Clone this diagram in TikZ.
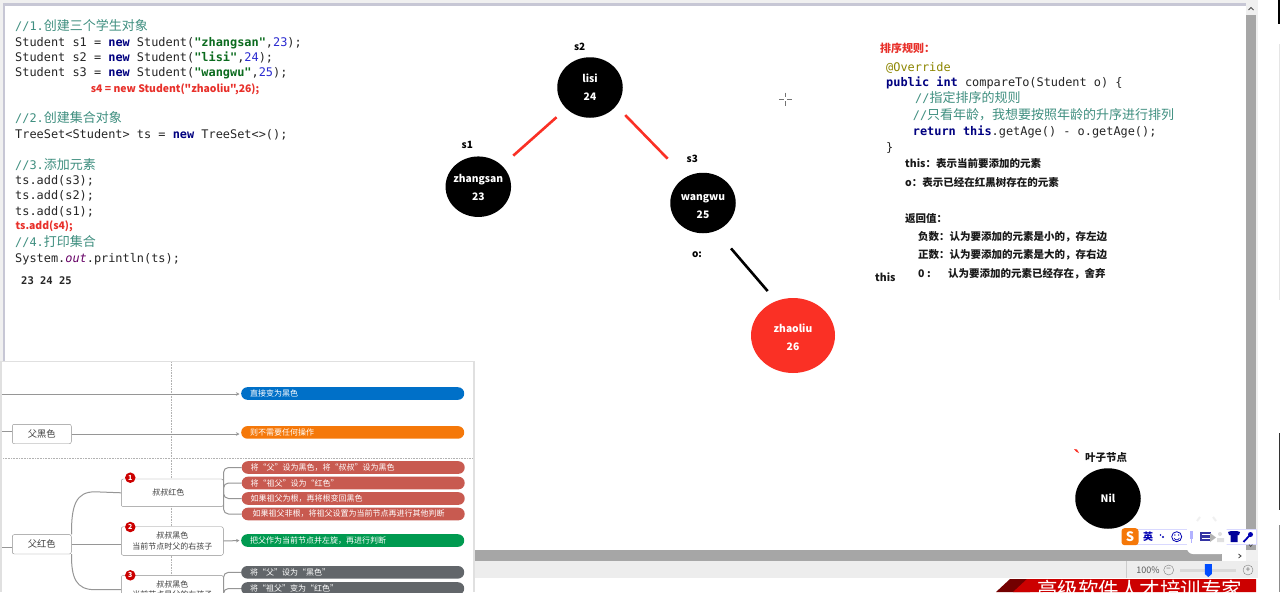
\documentclass[tikz,border=0pt]{standalone}
\usepackage{xcolor}
\usepackage{fontspec}
\setmonofont{DejaVu Sans Mono}
\newfontfamily\cjk{Noto Sans CJK SC}
\usetikzlibrary{arrows.meta,positioning,shapes.geometric}
\definecolor{redlab}{HTML}{E8302A}
\definecolor{rededgecol}{HTML}{FA3025}
\definecolor{kwcol}{HTML}{000080}
\definecolor{strcol}{HTML}{0B6B1E}
\definecolor{numcol}{HTML}{2A2AD0}
\definecolor{cmtcol}{HTML}{3F8F80}
\definecolor{linkcol}{HTML}{969696}
\definecolor{pillblue}{HTML}{0070C8}
\definecolor{pillorange}{HTML}{F57809}
\definecolor{pillred}{HTML}{C85A50}
\definecolor{pillgreen}{HTML}{009A50}
\definecolor{pillgrey}{HTML}{62666A}
\newcommand{\javakw}[1]{{\bfseries\color{kwcol}#1}}
\newcommand{\javastr}[1]{{\bfseries\color{strcol}#1}}
\newcommand{\javanum}[1]{{\color{numcol}#1}}
\newcommand{\javacmt}[1]{{\color{cmtcol}#1}}
\newcommand{\cmtcjk}[1]{{\cjk\fontsize{13}{15}\selectfont#1}}
\begin{document}
\begin{tikzpicture}[
  x=1pt, y=-1pt,
  code/.style={anchor=west, text height=8.6pt, text depth=0pt, inner sep=0pt, font=\ttfamily\fontsize{11.9}{14}\selectfont, text=black!85},
  redcode/.style={anchor=west, inner sep=0pt, text=redlab, font=\cjk\bfseries\fontsize{10.4}{12}\selectfont},
  note/.style={anchor=west, inner sep=0pt, text=black!90, font=\cjk\bfseries\fontsize{10.5}{12}\selectfont},
  tag/.style={inner sep=0pt, text=black, font=\cjk\bfseries\fontsize{10}{12}\selectfont},
  treenode/.style={ellipse, fill=black, text=white, inner sep=0pt, minimum width=65.5pt, minimum height=60.5pt, align=center, font=\cjk\bfseries\fontsize{10.3}{18}\selectfont},
  rededge/.style={line width=2.6pt, draw=rededgecol},
  blackedge/.style={line width=2.6pt, draw=black},
  mapbox/.style={draw=black!45, fill=white, rounded corners=2pt, align=center, text=black!75, inner sep=0pt, font=\cjk\fontsize{8}{10.5}\selectfont},
  pill/.style={anchor=west, text=white, rounded corners=6.2pt, minimum width=223pt, minimum height=12.6pt, inner sep=0pt, text width=205pt, font=\cjk\fontsize{8}{10}\selectfont},
  badge/.style={circle, fill=red!80!black, text=white, inner sep=0pt, minimum size=10.5pt, font=\cjk\bfseries\fontsize{7}{8}\selectfont},
  maplink/.style={draw=linkcol, line width=1pt},
  maparr/.style={maplink, -{Stealth[length=3.5pt,width=3.5pt]}, shorten >=1.5pt},
  guide/.style={draw=black!30, densely dotted, line width=0.6pt}
]
\useasboundingbox (0,0) rectangle (1280,592);
\clip (0,0) rectangle (1280,592);
\fill[white] (0,0) rectangle (1280,592);
\fill[black!6] (0,0) rectangle (1258,3);
\fill[black!6] (0,0) rectangle (3,592);
\fill[blue!25!black!22] (3,3) rectangle (1246,6);
\fill[blue!25!black!22] (3,3) rectangle (5,362);
\fill[black!6] (1246,3) rectangle (1258,578);
\fill[black!35] (1246,15) rectangle (1256,550);
\draw[black!70, line width=0.8pt] (1248.5,10) -- (1251,7.5) -- (1253.5,10);
\fill[black!35] (473,550) rectangle (1222,561);
\fill[black!7] (473,561) rectangle (1258,578);
\draw[black!20] (1126,561) -- (1126,578);
\fill[black] (1278,0) rectangle (1280,24);
\fill[black!10] (1279,44) rectangle (1280,300);
\fill[black!80] (1279,433) rectangle (1280,510);
\fill[black!45] (1279,525) rectangle (1280,592);

% code on the left
\node[code] (line1) at (15,25.7) {\javacmt{//1.\cmtcjk{创建三个学生对象}}};
\node[code] (line2) at (15,41.7) {Student s1 = \javakw{new} Student(\javastr{"zhangsan"},\javanum{23});};
\node[code] (line3) at (15,56.7) {Student s2 = \javakw{new} Student(\javastr{"lisi"},\javanum{24});};
\node[code] (line4) at (15,71.7) {Student s3 = \javakw{new} Student(\javastr{"wangwu"},\javanum{25});};
\node[redcode] (line5) at (90.7,89.3) {s4 = new Student("zhaoliu",26);};
\node[code] (line6) at (15,117.7) {\javacmt{//2.\cmtcjk{创建集合对象}}};
\node[code] (line7) at (15,133.7) {TreeSet<Student> ts = \javakw{new} TreeSet<>();};
\node[code] (line8) at (15,165) {\javacmt{//3.\cmtcjk{添加元素}}};
\node[code] (line9) at (15,180.3) {ts.add(s3);};
\node[code] (line10) at (15,195.3) {ts.add(s2);};
\node[code] (line11) at (15,210.7) {ts.add(s1);};
\node[redcode] (line12) at (15.5,226.7) {ts.add(s4);};
\node[code] (line13) at (15,242) {\javacmt{//4.\cmtcjk{打印集合}}};
\node[code] (line14) at (15,257.7) {System.{\itshape\color{violet!80!black}out}.println(ts);};
\node[code, font=\ttfamily\bfseries\fontsize{10.5}{12}\selectfont] (result) at (21,280) {23 24 25};

% tree
\node[treenode] (lisi) at (590,87.5) {lisi\\24};
\node[treenode] (zhangsan) at (478.3,186.7) {\rule{0pt}{10pt}\makebox[0pt]{zhangsan}\\23};
\node[treenode] (wangwu) at (703,203) {\rule{0pt}{13pt}\makebox[0pt]{wangwu}\\25};
\node[treenode, fill=rededgecol, minimum width=84pt, minimum height=75pt] (zhaoliu) at (793,335.5) {\rule{0pt}{12pt}\makebox[0pt]{zhaoliu}\\26};
\node[treenode] (nil) at (1108,498.5) {Nil};
\node[tag] (s2) at (579.7,46.7) {s2};
\node[tag] (s1) at (467.3,145) {s1};
\node[tag] (s3) at (692.3,159.3) {s3};
\node[tag] (o) at (697,254.3) {o:};
\draw[rededge, shorten <=13pt, shorten >=15pt] (lisi) -- (zhangsan);
\draw[rededge, shorten <=12.8pt, shorten >=25.8pt] (lisi.-35) -- (wangwu.124);
\draw[blackedge, shorten <=23pt, shorten >=13pt] (wangwu.-65) -- (zhaoliu.116);

\draw[black!55, line width=0.6pt] (779,99) -- (783.5,99) (787,99) -- (792,99) (785.3,92.5) -- (785.3,97) (785.3,101) -- (785.3,105.5);

% rules on the right
\node[redcode, font=\cjk\bfseries\fontsize{11}{13}\selectfont] (rulehead) at (880,48) {排序规则：};
\node[code, text=olive] (rule1) at (886,66.7) {@Override};
\node[code] (rule2) at (886,82) {\javakw{public} \javakw{int} compareTo(Student o) \{};
\node[code] (rule3) at (915,98.3) {\javacmt{//\cmtcjk{指定排序的规则}}};
\node[code] (rule4) at (912.7,115) {\javacmt{//\cmtcjk{只看年龄，我想要按照年龄的升序进行排列}}};
\node[code] (rule5) at (912.7,131) {\javakw{return} \javakw{this}.getAge() - o.getAge();};
\node[code] (rule6) at (886,147) {\}};
\node[note] (this) at (905,164) {this：表示当前要添加的元素};
\node[note] (other) at (905,182.3) {o：表示已经在红黑树存在的元素};
\node[note] (ret) at (905,219) {返回值：};
\node[note] (neg) at (918,236.7) {负数：认为要添加的元素是小的，存左边};
\node[note] (pos) at (918,255) {正数：认为要添加的元素是大的，存右边};
\node[note] (zero) at (918,273.3) {0 :};
\node[note] (zerotext) at (948,273.3) {认为要添加的元素已经存在，舍弃};
\node[note] (thistag) at (875,277.7) {this};
\node[note] (leaf) at (1085,457.3) {叶子节点};
\fill[rededgecol] (1074,449) -- (1077,449.5) -- (1079,453) -- (1076,451.5) -- cycle;

% mind map panel
\fill[black!12] (0,360.5) rectangle (474.5,592);
\fill[white] (2,362) rectangle (473,592);
\draw[guide] (171,362) -- (171,592);
\draw[guide] (3,458.5) -- (473,458.5);
\node[pill, fill=pillblue] (direct) at (241,393.5) {直接变为黑色};
\node[pill, fill=pillorange] (noop) at (241,432.4) {则不需要任何操作};
\node[pill, fill=pillred] (red1) at (241.5,467.5) {将“父”设为黑色，将“叔叔”设为黑色};
\node[pill, fill=pillred, below=2.5pt of red1] (red2) {将“祖父”设为“红色”};
\node[pill, fill=pillred, below=2.5pt of red2] (red3) {如果祖父为根，再将根变回黑色};
\node[pill, fill=pillred, below=2.5pt of red3] (red4) {\hspace{2pt}如果祖父非根，将祖父设置为当前节点再进行其他判断};
\node[pill, fill=pillgreen] (rotate) at (241,540.5) {把父作为当前节点并左旋，再进行判断};
\node[pill, fill=pillgrey] (grey1) at (241,572.3) {将“父”设为“黑色”};
\node[pill, fill=pillgrey] (grey2) at (241,588.5) {将“祖父”变为“红色”};
\node[mapbox, minimum width=59pt, minimum height=19.4pt, font=\cjk\fontsize{9.3}{11}\selectfont] (fablack) at (41.8,434) {父黑色};
\node[mapbox, minimum width=59pt, minimum height=19.4pt, font=\cjk\fontsize{9.3}{11}\selectfont] (fared) at (41.8,544.3) {父红色};
\coordinate (topin) at (2,394);
\coordinate (blackin) at (2,431.7);
\coordinate (redin) at (2,547);
\node[mapbox, minimum width=102pt, minimum height=27.7pt] (uncle1) at (172.3,492.8) {叔叔红色\hspace{8pt}};
\node[mapbox, minimum width=102pt, minimum height=28.6pt] (uncle2) at (172.3,541) {叔叔黑色\hspace{4pt}\\当前节点时父的右孩子\hspace{4pt}};
\node[mapbox, minimum width=102pt, minimum height=28.6pt] (uncle3) at (172.3,589.7) {叔叔黑色\\当前节点是父的左孩子};
\node[badge] (num1) at (130.3,477.7) {1};
\node[badge] (num2) at (130.3,527) {2};
\node[badge] (num3) at (130.3,575.3) {3};
\draw[maparr] (topin) -- (direct.west |- topin);
\draw[maplink] (blackin) -- (fablack.west |- blackin);
\draw[maplink] (redin) -- (fared.west |- redin);
\draw[maparr] (fablack.east) -- (noop.west |- fablack.east);
\draw[maplink] (fared.east) -- (uncle2.west |- fared.east);
\draw[maplink] (fared.north east) .. controls (71.3,505) and (76,491.8) .. (95,491.8) -- (uncle1.west);
\draw[maplink] (fared.south east) .. controls (71.3,578) and (76,589.7) .. (95,589.7) -- (uncle3.west);
\draw[maplink, rounded corners=5pt] (uncle1.east) |- (red1.west);
\draw[maplink, rounded corners=5pt] (uncle1.east) |- (red2.west);
\draw[maplink, rounded corners=5pt] (uncle1.east) |- (red3.west);
\draw[maplink, rounded corners=5pt] (uncle1.east) |- (red4.west);
\draw[maparr] (uncle2.east) -- (rotate.west);
\draw[maplink, rounded corners=5pt] (uncle3.east) |- (grey1.west);
\draw[maplink, rounded corners=5pt] (uncle3.east) |- (grey2.west);

% window furniture
\fill[white] (1135,529) rectangle (1256,544);
\draw[blue!15, line width=0.6pt] (1135,529) rectangle (1256,544);
\node[fill=pillorange, text=white, rounded corners=3pt, inner sep=0pt, minimum size=17pt, font=\cjk\bfseries\fontsize{13}{14}\selectfont] (sogou) at (1130,536.7) {S};
\node[inner sep=0pt, text=blue!70!black, font=\cjk\bfseries\fontsize{10}{12}\selectfont] (lang) at (1148,537) {英};
\fill[blue!70!black] (1160.5,535) circle (0.9pt) (1163,537) circle (1.1pt);
\draw[blue!70!black, line width=0.8pt] (1176.7,536.7) circle (5pt);
\fill[blue!70!black] (1174.8,535) circle (0.7pt) (1178.6,535) circle (0.7pt);
\draw[blue!70!black, line width=0.6pt] (1174,538) .. controls (1175.5,540.5) and (1178,540.5) .. (1179.5,538);
\fill[white, rounded corners=6pt] (1187,522) rectangle (1226.7,554);
\draw[black!6, line width=2pt] (1197,521) -- (1200,517) (1216,521) -- (1213,517);
\fill[blue!30] (1189.5,531) rectangle (1192.5,539);
\draw[blue!30, line width=0.7pt] (1191,539) -- (1191,543);
\fill[blue!55!black!80] (1200,532) rectangle (1211,541);
\draw[white, line width=0.5pt] (1201.5,534.5) -- (1209.5,534.5) (1201.5,538.5) -- (1209.5,538.5);
\fill[black!30] (1210,533) -- (1216,537.5) -- (1210,542) -- cycle;
\fill[black!12] (1220,534) circle (2pt) (1217,542) rectangle (1224,538);
\fill[blue!60!black] (1228,532) -- (1231,531) -- (1237,531) -- (1240,532) -- (1239,535) -- (1237.5,535) -- (1237.5,542) -- (1230.5,542) -- (1230.5,535) -- (1229,535) -- cycle;
\draw[blue!70!black, line width=1.8pt] (1243.5,542) -- (1250,535);
\fill[blue!70!black] (1250.5,534.5) circle (2.5pt);
\draw[black!70, line width=0.7pt] (1249,544.5) -- (1250.7,546.5) -- (1252.4,544.5);
\draw[black!75, line width=0.8pt] (1238.5,554) -- (1241,556) -- (1238.5,558);
\node[inner sep=0pt, text=black!65, font=\cjk\fontsize{9}{11}\selectfont] (zoompct) at (1148,570) {100\%};
\node[draw=black!50, circle, inner sep=0pt, minimum size=10pt, text=black!60, font=\cjk\fontsize{8}{9}\selectfont] (zoomout) at (1168.7,570) {−};
\node[draw=black!50, circle, inner sep=0pt, minimum size=10pt, text=black!60, font=\cjk\fontsize{8}{9}\selectfont] (zoomin) at (1248,570) {+};
\fill[black!15] (1180,568.5) rectangle (1236,571.5);
\fill[blue!70!cyan] (1204.8,564) -- (1211.8,564) -- (1211.8,574) -- (1208.3,577) -- (1204.8,574) -- cycle;
\fill[red!45!black] (996,592) -- (1010,579) -- (1030,579) -- (1030,592) -- cycle;
\fill[red!80!black] (1013,592) -- (1027,579) -- (1256,579) -- (1256,592) -- cycle;
\node[anchor=north west, inner sep=0pt, text=white, font=\cjk\fontsize{20.5}{22}\selectfont] (banner) at (1037,580) {高级软件人才培训专家};
\end{tikzpicture}
\end{document}
